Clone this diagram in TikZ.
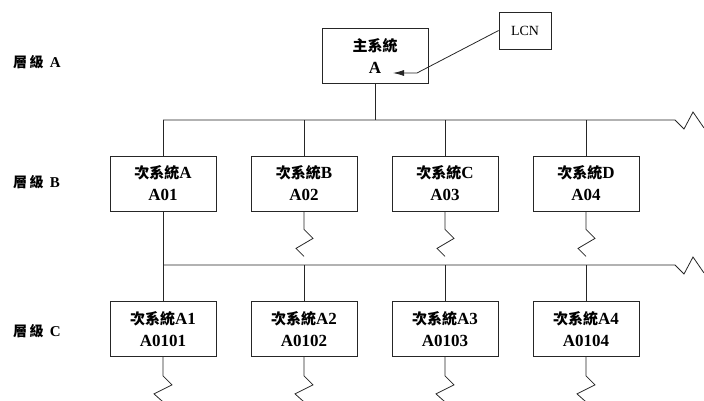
\documentclass[tikz,border=0pt]{standalone}
\usepackage{fontspec}
\setmainfont{Liberation Serif}
\newfontfamily\cjk{Noto Sans CJK TC}
\usepackage{tikz}
\usetikzlibrary{arrows.meta}
\newcommand{\zh}[1]{{\cjk\bfseries\fontsize{15}{15}\selectfont #1}}
\newcommand{\zhs}[1]{{\cjk\bfseries\fontsize{14}{14}\selectfont #1}}
\tikzset{
  sysbox/.style={draw=black!85, line width=0.8pt, minimum width=106pt, minimum height=55pt,
                 align=center, inner sep=0pt, font=\fontsize{17}{22}\selectfont\bfseries},
  lcnbox/.style={draw=black!85, line width=0.8pt, minimum width=52pt, minimum height=37pt,
                 inner sep=0pt, font=\fontsize{14}{14}\selectfont},
  levellabel/.style={anchor=west, inner sep=0pt, font=\fontsize{15}{15}\selectfont\bfseries},
  wire/.style={line width=0.8pt, black!85},
  feed/.style={-{Latex[length=11pt,width=6pt]}, line width=0.8pt, black!85},
}
\begin{document}
\begin{tikzpicture}[x=1pt, y=-1pt]
  \useasboundingbox (0,0) rectangle (704,401);

  % level labels
  \node[levellabel] (lvla) at (13,62) {\zhs{層\,級}\, A};
  \node[levellabel] (lvlb) at (13,182) {\zhs{層\,級}\, B};
  \node[levellabel] (lvlc) at (13,331) {\zhs{層\,級}\, C};

  % level A
  \node[sysbox] (main) at (375,56) {\zh{主系統}\\A};
  \node[lcnbox] (lcn) at (525,30.5) {LCN};
  \coordinate (lcnbend) at (417,73);
  \draw[feed] (lcn.west) -- (lcnbend) -- (393,73);

  % level B
  \node[sysbox] (b1) at (163,183.5) {\zh{次系統}A\\A01};
  \node[sysbox] (b2) at (304,183.5) {\zh{次系統}B\\A02};
  \node[sysbox] (b3) at (445,183.5) {\zh{次系統}C\\A03};
  \node[sysbox] (b4) at (586,183.5) {\zh{次系統}D\\A04};

  % level C
  \node[sysbox] (c1) at (163,329) {\zh{次系統}A1\\A0101};
  \node[sysbox] (c2) at (304,329) {\zh{次系統}A2\\A0102};
  \node[sysbox] (c3) at (445,329) {\zh{次系統}A3\\A0103};
  \node[sysbox] (c4) at (586,329) {\zh{次系統}A4\\A0104};

  % bus A -> B
  \coordinate (busb) at (163,120);
  \coordinate (busbend) at (675,120);
  \draw[wire] (main.south) -- (main.south |- busb);
  \draw[wire] (busb) -- (busbend) -- ++(9,9) -- ++(9,-17) -- ++(11,16);
  \draw[wire] (b1.north) -- (busb);
  \draw[wire] (b2.north) -- (b2.north |- busb);
  \draw[wire] (b3.north) -- (b3.north |- busb);
  \draw[wire] (b4.north) -- (b4.north |- busb);

  % bus B -> C
  \coordinate (busc) at (163,265);
  \coordinate (buscend) at (675,265);
  \draw[wire] (b1.south) -- (busc);
  \draw[wire] (busc) -- (buscend) -- ++(9,9) -- ++(9,-17) -- ++(11,16);
  \draw[wire] (c1.north) -- (busc);
  \draw[wire] (c2.north) -- (c2.north |- busc);
  \draw[wire] (c3.north) -- (c3.north |- busc);
  \draw[wire] (c4.north) -- (c4.north |- busc);

  % broken tails
  \draw[wire] (b2.south) -- ++(0,18) -- ++(9,9) -- ++(-17,10) -- ++(8,8);
  \draw[wire] (b3.south) -- ++(0,18) -- ++(9,9) -- ++(-17,10) -- ++(8,8);
  \draw[wire] (b4.south) -- ++(0,18) -- ++(9,9) -- ++(-17,10) -- ++(8,8);
  \draw[wire] (c1.south) -- ++(0,19) -- ++(9,9) -- ++(-18,9) -- ++(9,8);
  \draw[wire] (c2.south) -- ++(0,19) -- ++(9,9) -- ++(-18,9) -- ++(9,8);
  \draw[wire] (c3.south) -- ++(0,19) -- ++(9,9) -- ++(-18,9) -- ++(9,8);
  \draw[wire] (c4.south) -- ++(0,19) -- ++(9,9) -- ++(-18,9) -- ++(9,8);
\end{tikzpicture}
\end{document}
